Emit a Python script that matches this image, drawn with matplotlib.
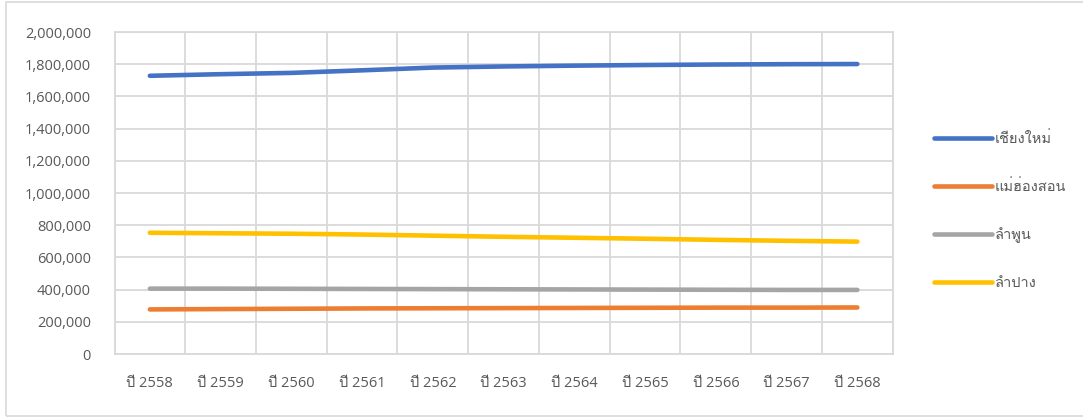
import matplotlib
matplotlib.use("Agg")
import matplotlib.pyplot as plt
from matplotlib import font_manager
from matplotlib.ft2font import FT2Font
from matplotlib.patches import Rectangle

# data
years = ["ปี 2558", "ปี 2559", "ปี 2560", "ปี 2561", "ปี 2562", "ปี 2563",
         "ปี 2564", "ปี 2565", "ปี 2566", "ปี 2567", "ปี 2568"]
chiang_mai = [1728000, 1738000, 1746000, 1762000, 1779000, 1786000,
              1791000, 1795000, 1798000, 1800000, 1801000]
mae_hong_son = [277000, 279000, 281000, 283000, 284000, 285000,
                286000, 287000, 288000, 288000, 289000]
lamphun = [406000, 406000, 405000, 404000, 403000, 402000,
           401000, 400000, 399000, 398000, 398000]
lampang = [753000, 750000, 747000, 742000, 735000, 728000,
           722000, 716000, 709000, 703000, 698000]
series_names = ["เชียงใหม่", "แม่ฮ่องสอน", "ลำพูน", "ลำปาง"]
colors = ["#4472C4", "#ED7D31", "#A5A5A5", "#FFC000"]

# find a font that has Thai glyphs
thai_font = None
for f in font_manager.fontManager.ttflist:
    try:
        if 0x0E0A in FT2Font(f.fname).get_charmap():
            thai_font = f.name
            break
    except Exception:
        pass
families = ["Open Sans"]
if thai_font:
    families.append(thai_font)
families.append("DejaVu Sans")
plt.rcParams["font.family"] = families

txt = "#595959"
grid = "#D9D9D9"

fig = plt.figure(figsize=(10.83, 4.17), dpi=100)
W, H = 1083, 417
ax = fig.add_axes([114.5 / W, (H - 354) / H, (892.7 - 114.5) / W, (354 - 32) / H])

x = range(len(years))
for vals, name, c in zip([chiang_mai, mae_hong_son, lamphun, lampang], series_names, colors):
    ax.plot(x, vals, color=c, lw=3.3, solid_capstyle="round", label=name)

ax.set_xlim(-0.5, len(years) - 0.5)
ax.set_ylim(0, 2000000)
ax.set_yticks(range(0, 2000001, 200000))
ax.yaxis.set_major_formatter(matplotlib.ticker.FuncFormatter(lambda v, p: f"{int(v):,}"))
ax.set_xticks(list(x))
ax.set_xticklabels(years)
ax.set_xticks([i - 0.5 for i in range(len(years) + 1)], minor=True)

ax.grid(True, which="major", axis="y", color=grid, lw=1.3)
ax.grid(True, which="minor", axis="x", color=grid, lw=1.3)
ax.set_axisbelow(True)
for s in ax.spines.values():
    s.set_color(grid)
    s.set_linewidth(1.3)
ax.tick_params(which="both", length=0, colors=txt, labelsize=10.5)
ax.tick_params(axis="y", pad=17)
ax.tick_params(axis="x", pad=15.5)

leg = fig.legend(loc="upper left", bbox_to_anchor=(921 / W, (H - 119) / H), frameon=False,
                 fontsize=10.5, handlelength=4.0, handletextpad=0.15, labelspacing=2.25)
for t in leg.get_texts():
    t.set_color(txt)

fig.patches.append(Rectangle((6 / W, 1 / H), 1.2, (H - 3) / H, transform=fig.transFigure,
                             fill=False, edgecolor=grid, lw=1.2))

fig.savefig("out.png", dpi=100)
